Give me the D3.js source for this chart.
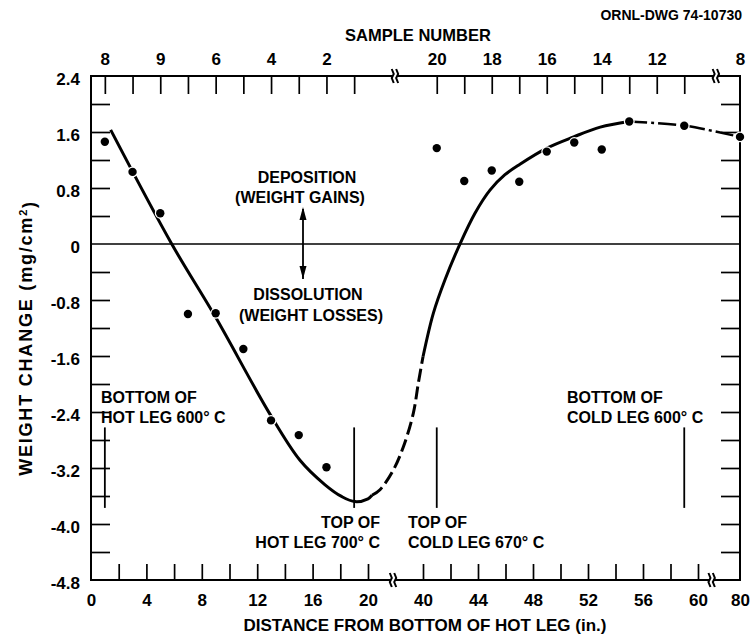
<!DOCTYPE html>
<html><head><meta charset="utf-8">
<script src="https://cdn.jsdelivr.net/npm/d3@7/dist/d3.min.js"></script>
<style>
body{margin:0;background:#fff;}
svg text{font-family:"Liberation Sans",Arial,sans-serif;font-weight:bold;fill:#000;}
</style></head><body>
<svg id="c" width="755" height="640"></svg>
<script>
// ---- data (distance in inches, weight change in mg/cm^2) ----
const sampleDistance = [1,3,5,7,9,11,13,15,17,41,43,45,47,49,51,53,55,59,80];
const weightChange  = [1.46,1.03,0.44,-1.00,-0.99,-1.50,-2.52,-2.73,-3.19,1.37,0.90,1.05,0.89,1.32,1.45,1.35,1.75,1.69,1.53];

// fitted curve, drawn in four pieces
const hotLegX  = [1.42,5.83,8.95,12.92,15.09,16.9,18.12,19.06,20.0,21.45];
const hotLegY  = [1.63,0,-1.03,-2.43,-3.09,-3.44,-3.61,-3.68,-3.64,-3.59];
const crossX   = [21.45,24.36,29.2,32.84,36.47,38.29,40.0];
const crossY   = [-3.59,-3.51,-3.23,-2.90,-2.42,-1.99,-1.61];
const coldLegX = [40.0,40.75,41.6,42.71,43.78,44.87,45.96,47.05,49.01,50.95,52.89,55];
const coldLegY = [-1.61,-0.99,-0.51,0.01,0.44,0.77,0.99,1.14,1.37,1.53,1.67,1.75];
const tailX    = [55,59,80];
const tailY    = [1.75,1.69,1.53];

// axes
const yTicks = [2.0,1.6,1.2,0.8,0.4,-0.4,-0.8,-1.2,-1.6,-2.0,-2.4,-2.8,-3.2,-3.6,-4.0,-4.4];
const yLabelVals = [2.4,1.6,0.8,0,-0.8,-1.6,-2.4,-3.2,-4.0,-4.8];
const yLabelText = ["2.4","1.6","0.8","0","-0.8","-1.6","-2.4","-3.2","-4.0","-4.8"];
const bottomTicks = [2,4,6,8,10,12,14,16,18,20,40,42,44,46,48,50,52,54,56,58,60];
const bottomLabels = [0,4,8,12,16,20,40,44,48,52,56,60,80];
const topTicks = [1,3,5,7,9,11,13,15,17,19,41,43,45,47,49,51,53,55,57,59];
const sampleLabelPos = [1,5,9,13,17,41,45,49,53,57,80];
const sampleLabels = ["8","9","6","4","2","20","18","16","14","12","8"];
const topBreaks = [29.8,68.5];
const bottomBreaks = [29.1,66.5];

// leg markers
const markerX = [1,19,41,59];
const markerTop = -2.62, markerBottom = -3.77;

// ---- drawing ----
const svg = d3.select("#c");
const L=91,R=740,T=76,B=580;
const x = d3.scaleLinear().domain([0,20,40,60,80]).range([L,368,423,698,R]);
const y = d3.scaleLinear().domain([-4.8,2.4]).range([B,T]);

function styleAxis(g, fs){
  g.select(".domain").remove();
  g.attr("font-family",null).attr("font-size",null);
  g.selectAll("line").attr("stroke","#000").attr("stroke-width",1.7);
  g.selectAll("text").style("font-size",fs+"px");
}

// ticks
svg.append("g").attr("transform",`translate(0,${B})`)
  .call(d3.axisBottom(x).tickValues(bottomTicks).tickSize(-16).tickFormat(""))
  .call(g=>styleAxis(g,17));
svg.append("g").attr("transform",`translate(0,${B})`)
  .call(d3.axisBottom(x).tickValues(bottomLabels).tickSize(0).tickPadding(14).tickFormat(d3.format("d")))
  .call(g=>styleAxis(g,17));
svg.append("g").attr("transform",`translate(0,${T})`)
  .call(d3.axisTop(x).tickValues(topTicks).tickSize(-18).tickFormat(""))
  .call(g=>styleAxis(g,17));
svg.append("g").attr("transform",`translate(0,${T})`)
  .call(d3.axisTop(x).tickValues(sampleLabelPos).tickSize(0).tickPadding(11).tickFormat((d,i)=>sampleLabels[i]))
  .call(g=>styleAxis(g,17));
svg.append("g").attr("transform",`translate(${L},0)`)
  .call(d3.axisLeft(y).tickValues(yTicks).tickSize(-19).tickFormat(""))
  .call(g=>styleAxis(g,17));
svg.append("g").attr("transform",`translate(${L},0)`)
  .call(d3.axisLeft(y).tickValues(yLabelVals).tickSize(0).tickPadding(11).tickFormat((d,i)=>yLabelText[i]))
  .call(g=>{styleAxis(g,17); g.selectAll("text").attr("dy","0.5em");});
svg.append("g").attr("transform",`translate(${R},0)`)
  .call(d3.axisRight(y).tickValues(yTicks).tickSize(-19).tickFormat(""))
  .call(g=>styleAxis(g,17));

// frame
svg.append("rect").attr("x",L).attr("y",T).attr("width",R-L).attr("height",B-T)
  .attr("fill","none").attr("stroke","#000").attr("stroke-width",2);
// zero line
svg.append("line").attr("x1",L).attr("x2",R).attr("y1",y(0)).attr("y2",y(0))
  .attr("stroke","#000").attr("stroke-width",1.4);

// axis breaks
function brk(xv, yy){
  const cx = x(xv);
  svg.append("rect").attr("x",cx-2).attr("y",yy-2).attr("width",4).attr("height",4).attr("fill","#fff");
  [-2.2,2.2].forEach(o=>{
    svg.append("path").attr("d",`M${cx+o-1},${yy-7} L${cx+o+1},${yy-2} L${cx+o-1},${yy+2} L${cx+o+1},${yy+7}`)
      .attr("fill","none").attr("stroke","#000").attr("stroke-width",2);
  });
}
topBreaks.forEach(b=>brk(b,T));
bottomBreaks.forEach(b=>brk(b,B));

// curves
const line = d3.line().x(d=>x(d[0])).y(d=>y(d[1])).curve(d3.curveCatmullRom.alpha(0.5));
const zip = (a,b)=>a.map((v,i)=>[v,b[i]]);
svg.append("path").attr("d",line(zip(hotLegX,hotLegY))).attr("fill","none").attr("stroke","#000").attr("stroke-width",3);
svg.append("path").attr("d",line(zip(crossX,crossY))).attr("fill","none").attr("stroke","#000").attr("stroke-width",3).attr("stroke-dasharray","13,5");
svg.append("path").attr("d",line(zip(coldLegX,coldLegY))).attr("fill","none").attr("stroke","#000").attr("stroke-width",3);
svg.append("path").attr("d",line(zip(tailX,tailY))).attr("fill","none").attr("stroke","#000").attr("stroke-width",2.5).attr("stroke-dasharray","18,4,3,4");

// marker lines
markerX.forEach(m=>{
  svg.append("line").attr("x1",x(m)).attr("x2",x(m)).attr("y1",y(markerTop)).attr("y2",y(markerBottom))
    .attr("stroke","#000").attr("stroke-width",1.8);
});

// points
svg.append("g").selectAll("circle").data(sampleDistance).join("circle")
  .attr("cx",d=>x(d)).attr("cy",(d,i)=>y(weightChange[i])).attr("r",4.2)
  .attr("fill","#000").attr("stroke","#fff").attr("stroke-width",2.5).attr("paint-order","stroke");

// double arrow
const ax = 303;
svg.append("line").attr("x1",ax).attr("x2",ax).attr("y1",y(0.5)).attr("y2",y(-0.5)).attr("stroke","#000").attr("stroke-width",1.8);
svg.append("path").attr("d",`M${ax},${y(0.53)} L${ax-3.5},${y(0.53)+13} L${ax+3.5},${y(0.53)+13}Z`).attr("fill","#000");
svg.append("path").attr("d",`M${ax},${y(-0.5)} L${ax-3.5},${y(-0.5)-13} L${ax+3.5},${y(-0.5)-13}Z`).attr("fill","#000");

// annotations
const notes = [
  {t:"DEPOSITION", x:307, y:183, a:"middle"},
  {t:"(WEIGHT GAINS)", x:300, y:203, a:"middle"},
  {t:"DISSOLUTION", x:308, y:300, a:"middle"},
  {t:"(WEIGHT LOSSES)", x:311, y:321, a:"middle"},
  {t:"BOTTOM OF", x:101, y:403, a:"start"},
  {t:"HOT LEG 600° C", x:101, y:423, a:"start"},
  {t:"TOP OF", x:380, y:528, a:"end"},
  {t:"HOT LEG 700° C", x:380, y:548, a:"end"},
  {t:"TOP OF", x:408, y:528, a:"start"},
  {t:"COLD LEG 670° C", x:408, y:548, a:"start"},
  {t:"BOTTOM OF", x:567, y:403, a:"start"},
  {t:"COLD LEG 600° C", x:567, y:423, a:"start"}
];
notes.forEach(n=>svg.append("text").attr("x",n.x).attr("y",n.y).attr("text-anchor",n.a)
  .style("font-size","16px").text(n.t));

// titles
svg.append("text").attr("x",742).attr("y",20).attr("text-anchor","end").style("font-size","14px").text("ORNL-DWG 74-10730");
svg.append("text").attr("x",418).attr("y",41).attr("text-anchor","middle").style("font-size","16.5px").text("SAMPLE NUMBER");
svg.append("text").attr("x",425).attr("y",631).attr("text-anchor","middle").style("font-size","17px").text("DISTANCE FROM BOTTOM OF HOT LEG (in.)");
const yt = svg.append("text").attr("transform","translate(32,338) rotate(-90)").attr("text-anchor","middle")
  .style("font-size","18px").style("letter-spacing","1.8px");
yt.append("tspan").text("WEIGHT CHANGE (mg/cm");
yt.append("tspan").attr("dy","-0.45em").style("font-size","11px").text("2");
yt.append("tspan").attr("dy","0.45em").text(")");
</script>
</body></html>
